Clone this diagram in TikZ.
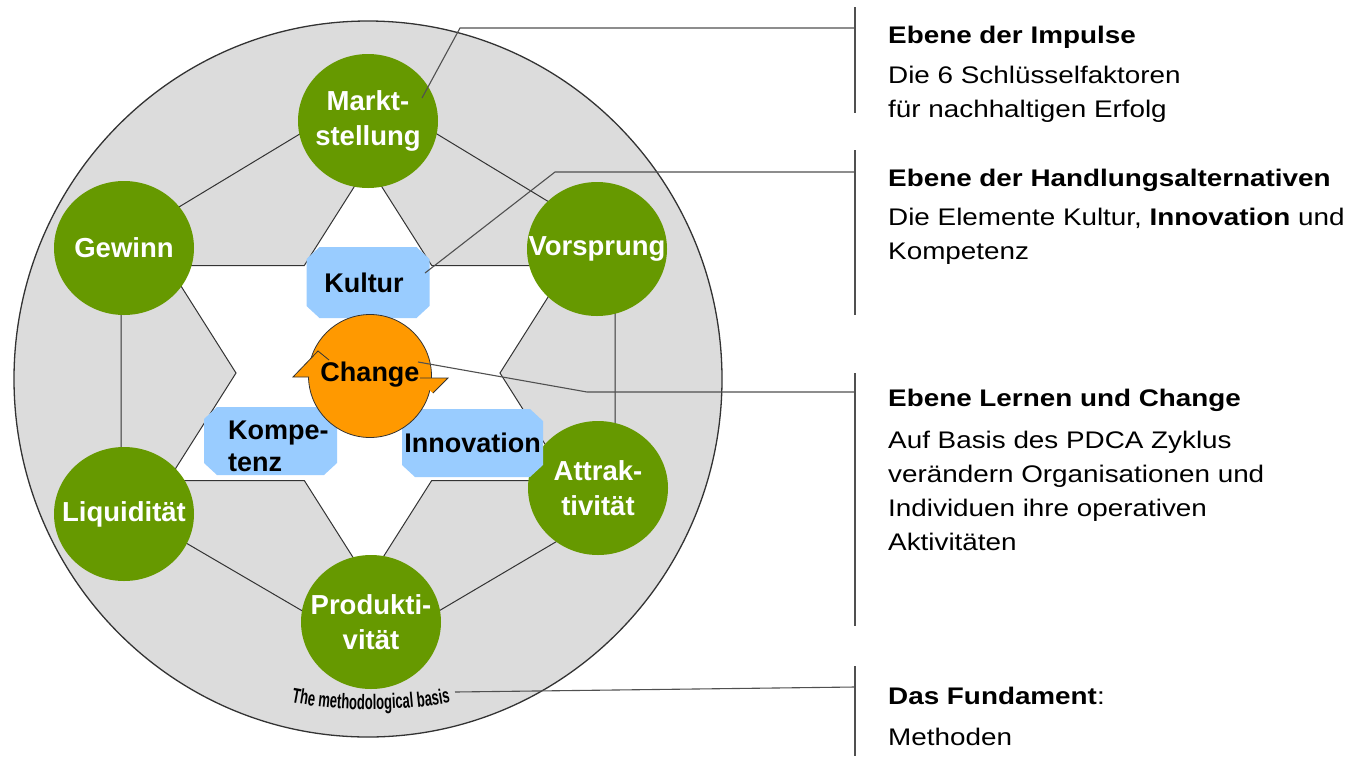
\documentclass[tikz,border=0pt]{standalone}
\usepackage{fontspec}
\setmainfont{Liberation Sans}
\newfontfamily\rtfont[FakeStretch=1.16]{Liberation Sans}
\newfontfamily\nrfont[FakeStretch=0.62]{Liberation Sans}
\usetikzlibrary{shapes.geometric,decorations.text}
\definecolor{lgray}{HTML}{DCDCDC}
\definecolor{lgreen}{HTML}{669900}
\definecolor{lblue}{HTML}{99CCFF}
\definecolor{lorange}{HTML}{FF9900}
\definecolor{lline}{HTML}{333333}
\definecolor{cline}{HTML}{505050}
\begin{document}
\begin{tikzpicture}[x=1pt,y=1pt,
  factor/.style={ellipse, fill=lgreen, minimum width=140pt, minimum height=134pt, inner sep=0pt},
  factortext/.style={text=white, font=\fontsize{27.5}{35}\selectfont\bfseries, align=center, inner sep=0pt},
  octbox/.style={rectangle, inner sep=0pt, font=\fontsize{27}{32}\selectfont\bfseries,
    path picture={\fill[lblue]
      ([xshift=13pt]path picture bounding box.north west) --
      ([xshift=-13pt]path picture bounding box.north east) --
      ([yshift=-12pt]path picture bounding box.north east) --
      ([yshift=12pt]path picture bounding box.south east) --
      ([xshift=-13pt]path picture bounding box.south east) --
      ([xshift=13pt]path picture bounding box.south west) --
      ([yshift=12pt]path picture bounding box.south west) --
      ([yshift=-12pt]path picture bounding box.north west) -- cycle;}},
  rtext/.style={anchor=base west, inner sep=0pt, align=left, font=\rtfont\fontsize{24}{33.7}\selectfont},
  bar/.style={draw=cline, line width=1.5pt},
  callout/.style={draw=cline, line width=1.1pt},
  frame/.style={draw=lline, line width=1pt}
]
\useasboundingbox (0,0) rectangle (1355,-756);

% big disc
\node[ellipse, fill=lgray, draw=lline, line width=1.3pt, minimum width=708pt, minimum height=716pt, inner sep=0pt] (base) at (368,-379) {};

% outer hexagon
\coordinate (h1) at (368.5,-92.5);
\coordinate (h2) at (615,-242);
\coordinate (h3) at (615,-507);
\coordinate (h4) at (371,-651);
\coordinate (h5) at (121,-505);
\coordinate (h6) at (121,-242);
\draw[frame] (h1) -- (h2) -- (h3) -- (h4) -- (h5) -- (h6) -- cycle;

% inner star
\draw[frame, fill=white] (368,-165) -- (431.7,-265.5) -- (568,-265.5) -- (500,-373) -- (568,-480.5)
  -- (431.7,-480.5) -- (368,-581) -- (304.3,-480.5) -- (168,-480.5) -- (236,-373)
  -- (168,-265.5) -- (304.3,-265.5) -- cycle;

% six key factors
\node[factor, label={[factortext]center:{Markt-\\stellung}}] (markt) at (368,-121) {};
\node[factor, label={[factortext]center:{Gewinn}}] (gewinn) at (124,-248) {};
\node[factor, label={[factortext]center:{Vorsprung}}] (vorsprung) at (597,-249) {};
\node[factor, label={[factortext]center:{Liquidität}}] (liq) at (124,-514) {};
\node[factor, label={[factortext]center:{Attrak-\\tivität}}] (attr) at (598,-488) {};
\node[factor, label={[factortext]center:{Produkti-\\vität}}] (prod) at (371,-622) {};

% elements
\node[octbox, minimum width=123pt, minimum height=71pt] (kultur) at (368,-282.5) {\hspace*{-8pt}Kultur};
\node[octbox, minimum width=133pt, minimum height=68pt] (kompetenz) at (270.5,-441) {};
\node[anchor=west, inner sep=0pt, align=left, font=\fontsize{27}{32}\selectfont\bfseries] (kompetenztext) at (228,-446) {Kompe-\\tenz};
\node[octbox, minimum width=141pt, minimum height=68pt] (innovation) at (472.5,-443) {Innovation};

% change
\node[circle, fill=lorange, draw=lline, line width=0.8pt, minimum size=123pt, inner sep=0pt] (change) at (370,-376) {};
\fill[lorange] (329,-360) -- (318,-351) -- (293,-377) -- (318,-377) -- cycle;
\draw[lline, line width=0.8pt] (329,-360) -- (318,-351) -- (293,-377) -- (309,-377);
\fill[lorange] (420,-378) -- (448,-378) -- (433,-393) -- (427,-388) -- cycle;
\draw[lline, line width=0.8pt] (420,-378) -- (448,-378) -- (433,-393);
\node[font=\fontsize{27}{30}\selectfont\bfseries, inner sep=0pt] (changetext) at (370,-375) {Change};

% methodological basis
\path[decorate, decoration={text along path, text align=center,
  text={|\nrfont\bfseries\fontsize{21}{21}\selectfont|The methodological basis}}]
  (290,-702) .. controls (340,-712) and (400,-712) .. (452,-702);

% bars and callouts
\coordinate (b1t) at (855,-7);   \coordinate (b1b) at (855,-113);
\coordinate (b2t) at (855,-150); \coordinate (b2b) at (855,-315);
\coordinate (b3t) at (855,-373); \coordinate (b3b) at (855,-626);
\coordinate (b4t) at (855,-666); \coordinate (b4b) at (855,-756);
\draw[bar] (b1t) -- (b1b);
\draw[bar] (b2t) -- (b2b);
\draw[bar] (b3t) -- (b3b);
\draw[bar] (b4t) -- (b4b);
\coordinate (c1) at (855,-28);  \coordinate (e1) at (460,-28);  \coordinate (t1) at (422,-98);
\coordinate (c2) at (855,-172); \coordinate (e2) at (555,-172); \coordinate (t2) at (425,-273);
\coordinate (c3) at (855,-392); \coordinate (e3) at (587,-392); \coordinate (t3) at (418,-362);
\coordinate (c4) at (855,-687); \coordinate (t4) at (455,-692);
\draw[callout] (c1) -- (e1) -- (t1);
\draw[callout] (c2) -- (e2) -- (t2);
\draw[callout] (c3) -- (e3) -- (t3);
\draw[callout] (c4) -- (t4);

% right texts (anchored at the baseline of the last line)
\node[rtext] (l1) at (888,-117) {\textbf{Ebene der Impulse}\\[6.3pt]Die 6 Schlüsselfaktoren\\für nachhaltigen Erfolg};
\node[rtext] (l2) at (888,-259) {\textbf{Ebene der Handlungsalternativen}\\[5.3pt]Die Elemente Kultur, \textbf{Innovation} und\\Kompetenz};
\node[rtext] (l3) at (888,-550) {\textbf{Ebene Lernen und Change}\\[8.3pt]Auf Basis des PDCA Zyklus\\verändern Organisationen und\\Individuen ihre operativen\\Aktivitäten};
\node[rtext] (l4) at (888,-745) {\textbf{Das Fundament}:\\[7.3pt]Methoden};
\end{tikzpicture}
\end{document}
